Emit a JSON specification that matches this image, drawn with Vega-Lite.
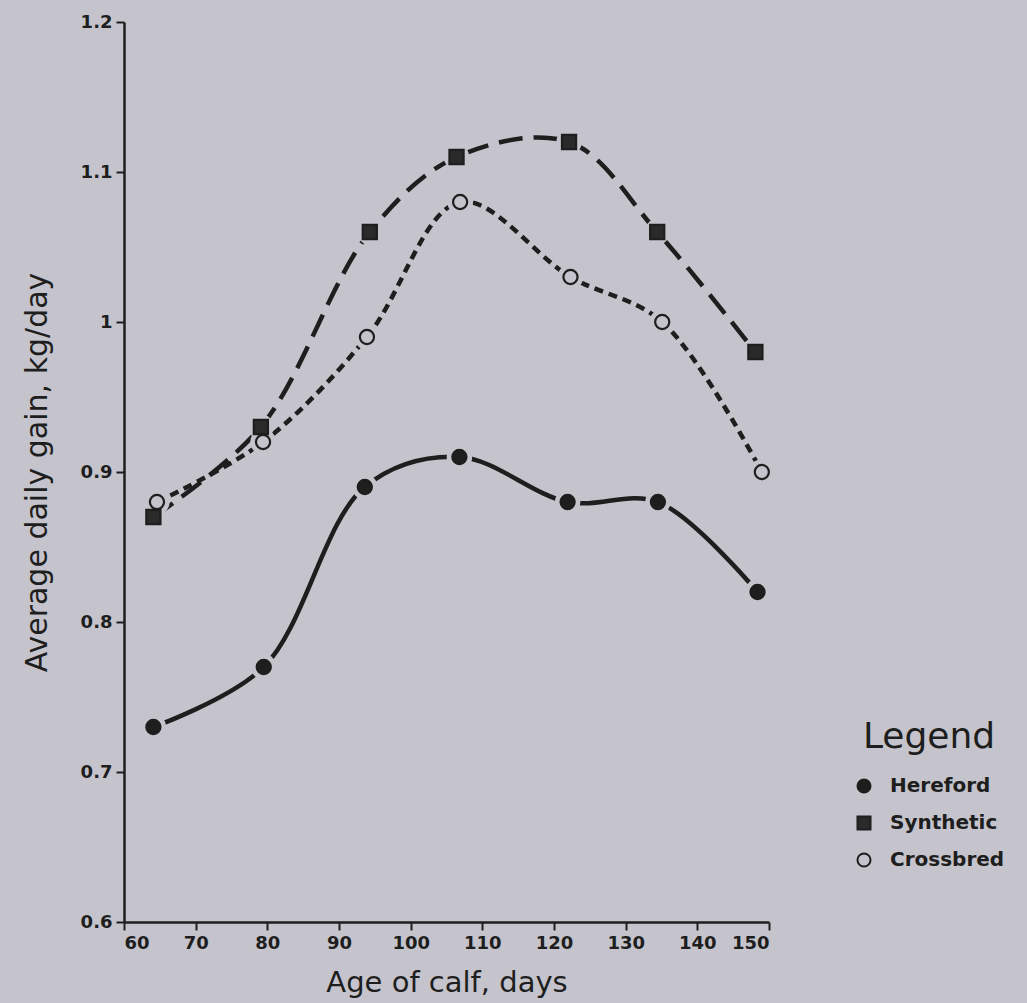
{
  "$schema": "https://vega.github.io/schema/vega-lite/v6.json",
  "autosize": {"type": "none"},
  "width": 645,
  "height": 900,
  "padding": {"left": 124, "top": 22, "right": 258, "bottom": 81},
  "background": "#c5c4cc",
  "config": {
    "view": {"stroke": null},
    "font": "DejaVu Sans",
    "axis": {
      "grid": false,
      "domainColor": "#1e1e1e",
      "domainWidth": 2.5,
      "tickColor": "#1e1e1e",
      "tickWidth": 2,
      "tickSize": 8,
      "labelColor": "#1e1e1e",
      "labelFont": "DejaVu Sans",
      "labelFontWeight": "bold",
      "labelFontSize": 18,
      "titleColor": "#1e1e1e",
      "titleFont": "DejaVu Sans",
      "titleFontWeight": "normal",
      "titleFontSize": 29
    }
  },
  "data": {
    "values": [
      {"breed": "Hereford", "age": 64.1, "gain": 0.73},
      {"breed": "Hereford", "age": 79.5, "gain": 0.77},
      {"breed": "Hereford", "age": 93.6, "gain": 0.89},
      {"breed": "Hereford", "age": 106.8, "gain": 0.91},
      {"breed": "Hereford", "age": 121.9, "gain": 0.88},
      {"breed": "Hereford", "age": 134.5, "gain": 0.88},
      {"breed": "Hereford", "age": 148.4, "gain": 0.82},
      {"breed": "Synthetic", "age": 64.1, "gain": 0.87},
      {"breed": "Synthetic", "age": 79.1, "gain": 0.93},
      {"breed": "Synthetic", "age": 94.3, "gain": 1.06},
      {"breed": "Synthetic", "age": 106.4, "gain": 1.11},
      {"breed": "Synthetic", "age": 122.1, "gain": 1.12},
      {"breed": "Synthetic", "age": 134.4, "gain": 1.06},
      {"breed": "Synthetic", "age": 148.1, "gain": 0.98},
      {"breed": "Crossbred", "age": 64.6, "gain": 0.88},
      {"breed": "Crossbred", "age": 79.4, "gain": 0.92},
      {"breed": "Crossbred", "age": 93.9, "gain": 0.99},
      {"breed": "Crossbred", "age": 106.9, "gain": 1.08},
      {"breed": "Crossbred", "age": 122.3, "gain": 1.03},
      {"breed": "Crossbred", "age": 135.1, "gain": 1.0},
      {"breed": "Crossbred", "age": 149.0, "gain": 0.9}
    ]
  },
  "encoding": {
    "x": {
      "field": "age",
      "type": "quantitative",
      "scale": {"domain": [60, 150], "nice": false, "zero": false},
      "axis": {
        "values": [60, 70, 80, 90, 100, 110, 120, 130, 140, 150],
        "title": "Age of calf, days",
        "labelPadding": 4,
        "titlePadding": 16
      }
    },
    "y": {
      "field": "gain",
      "type": "quantitative",
      "scale": {"domain": [0.6, 1.2], "nice": false, "zero": false},
      "axis": {
        "values": [0.6, 0.7, 0.8, 0.9, 1.0, 1.1, 1.2],
        "format": "~g",
        "title": "Average daily gain, kg/day",
        "titleFontSize": 30,
        "labelPadding": 4,
        "titlePadding": 28
      }
    }
  },
  "layer": [
    {
      "transform": [{"filter": "datum.breed === 'Hereford'"}],
      "mark": {"type": "line", "interpolate": "catmull-rom", "stroke": "#1e1e1e", "strokeWidth": 4.5},
      "encoding": {}
    },
    {
      "transform": [{"filter": "datum.breed === 'Synthetic'"}],
      "mark": {"type": "line", "interpolate": "catmull-rom", "stroke": "#1e1e1e", "strokeWidth": 4.5, "strokeDash": [24, 11]},
      "encoding": {}
    },
    {
      "transform": [{"filter": "datum.breed === 'Crossbred'"}],
      "mark": {"type": "line", "interpolate": "catmull-rom", "stroke": "#1e1e1e", "strokeWidth": 4.5, "strokeDash": [9, 6]},
      "encoding": {}
    },
    {
      "mark": {"type": "point", "filled": true, "color": "#c5c4cc", "size": 650, "opacity": 1},
      "encoding": {}
    },
    {
      "mark": {"type": "point", "filled": true, "strokeWidth": 2.2, "size": 200, "opacity": 1},
      "encoding": {
        "shape": {
          "field": "breed",
          "type": "nominal",
          "scale": {"domain": ["Hereford", "Synthetic", "Crossbred"], "range": ["circle", "square", "circle"]},
          "title": "Legend",
          "legend": {
            "orient": "none",
            "legendX": 730,
            "legendY": 698,
            "padding": 0,
            "titleFontSize": 36,
            "titleFontWeight": "normal",
            "titleColor": "#1e1e1e",
            "titleFont": "DejaVu Sans",
            "titleAnchor": "middle",
            "titlePadding": 20,
            "labelFontSize": 20,
            "labelFontWeight": "bold",
            "labelColor": "#1e1e1e",
            "labelFont": "DejaVu Sans",
            "labelOffset": 16,
            "symbolSize": 170,
            "rowPadding": 15,
            "symbolStrokeWidth": 2
          }
        },
        "fill": {
          "field": "breed",
          "type": "nominal",
          "scale": {"domain": ["Hereford", "Synthetic", "Crossbred"], "range": ["#1e1e1e", "#2a2a2a", "#c5c4cc"]},
          "title": "Legend"
        },
        "stroke": {
          "field": "breed",
          "type": "nominal",
          "scale": {"domain": ["Hereford", "Synthetic", "Crossbred"], "range": ["#1e1e1e", "#1e1e1e", "#1e1e1e"]},
          "title": "Legend"
        }
      }
    }
  ]
}
